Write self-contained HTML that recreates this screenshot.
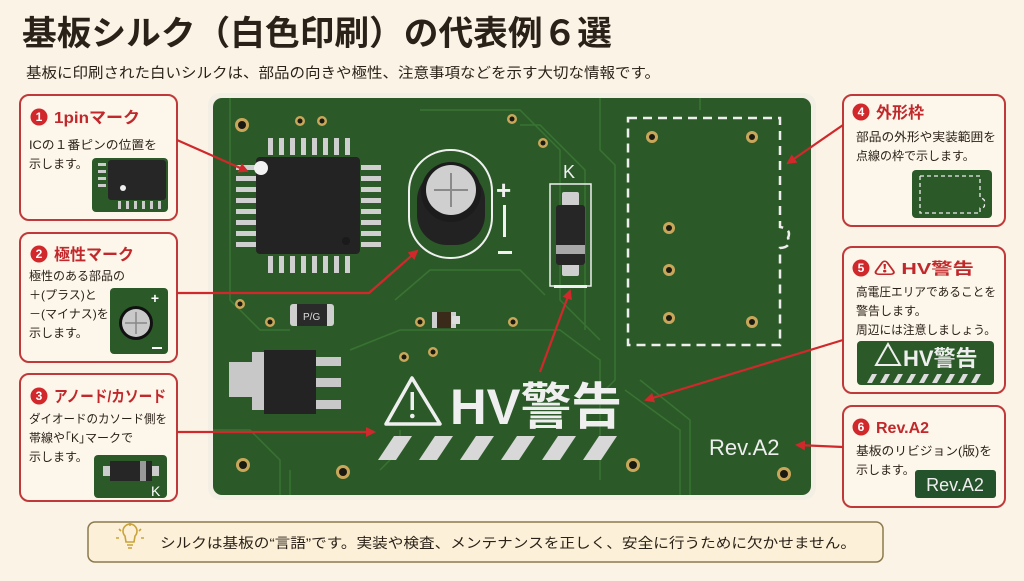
<!DOCTYPE html>
<html><head><meta charset="utf-8"><style>
html,body{margin:0;padding:0;background:#fbf4e6;}
body{width:1024px;height:576px;overflow:hidden;position:relative;font-family:"Liberation Sans","Noto Sans CJK JP",sans-serif;}
svg text{font-family:"Liberation Sans","Noto Sans CJK JP",sans-serif;}
</style></head><body>
<svg width="1024" height="576" viewBox="0 0 1024 576" xmlns="http://www.w3.org/2000/svg">
<defs>
<marker id="ah" markerWidth="10" markerHeight="10" refX="8" refY="5" orient="auto" markerUnits="userSpaceOnUse"><path d="M0,0 L10,5 L0,10 z" fill="#d0282b"/></marker>
</defs>
<rect width="1024" height="576" fill="#fbf4e6"/>
<!-- title -->
<text x="22" y="45" font-size="34" font-weight="bold" fill="#2a2118" textLength="590" lengthAdjust="spacingAndGlyphs">基板シルク（白色印刷）の代表例６選</text>
<text x="26" y="78" font-size="14.5" fill="#2a2118" textLength="634" lengthAdjust="spacingAndGlyphs">基板に印刷された白いシルクは、部品の向きや極性、注意事項などを示す大切な情報です。</text>

<!-- board -->
<rect x="208" y="93" width="608" height="407" rx="12" fill="#f4efe4"/>
<rect x="213" y="98" width="598" height="397" rx="9" fill="#2b5a28"/>
<g stroke="#3d7a36" stroke-width="1.5" fill="none" opacity="0.8">
<path d="M230 98 V300 L260 330 H290"/><path d="M420 110 H520 L560 150 V300 L600 340"/>
<path d="M600 98 V150 L615 165 V380 L600 395"/><path d="M520 125 H540 L585 170 V330"/>
<path d="M395 300 L430 270 H520 L545 295"/><path d="M350 350 L400 330 H560 L600 360 V480"/>
<path d="M380 470 L400 450 V430"/><path d="M640 380 L690 420 V495"/><path d="M625 390 L680 430 V495"/>
<path d="M213 430 H250 L280 460 V495"/><path d="M290 470 V495"/><path d="M700 110 V98"/>
</g>
<!-- holes -->
<g fill="#c9a75a"><circle cx="242" cy="125" r="7"/><circle cx="300" cy="121" r="5"/><circle cx="322" cy="121" r="5"/><circle cx="512" cy="119" r="5"/><circle cx="543" cy="143" r="5"/><circle cx="240" cy="304" r="5"/><circle cx="270" cy="322" r="5"/><circle cx="420" cy="322" r="5"/><circle cx="513" cy="322" r="5"/><circle cx="404" cy="357" r="5"/><circle cx="433" cy="352" r="5"/><circle cx="243" cy="465" r="7"/><circle cx="343" cy="472" r="7"/><circle cx="652" cy="137" r="6"/><circle cx="752" cy="137" r="6"/><circle cx="669" cy="228" r="6"/><circle cx="669" cy="270" r="6"/><circle cx="669" cy="318" r="6"/><circle cx="752" cy="322" r="6"/><circle cx="633" cy="465" r="7"/><circle cx="784" cy="474" r="7"/></g>
<g fill="#1a1a12"><circle cx="242" cy="125" r="4"/><circle cx="300" cy="121" r="2.5"/><circle cx="322" cy="121" r="2.5"/><circle cx="512" cy="119" r="2.5"/><circle cx="543" cy="143" r="2.5"/><circle cx="240" cy="304" r="2.5"/><circle cx="270" cy="322" r="2.5"/><circle cx="420" cy="322" r="2.5"/><circle cx="513" cy="322" r="2.5"/><circle cx="404" cy="357" r="2.5"/><circle cx="433" cy="352" r="2.5"/><circle cx="243" cy="465" r="4"/><circle cx="343" cy="472" r="4"/><circle cx="652" cy="137" r="3"/><circle cx="752" cy="137" r="3"/><circle cx="669" cy="228" r="3"/><circle cx="669" cy="270" r="3"/><circle cx="669" cy="318" r="3"/><circle cx="752" cy="322" r="3"/><circle cx="633" cy="465" r="4"/><circle cx="784" cy="474" r="4"/></g>
<!-- IC -->
<g fill="#cfcfcf">
<g id="tp"><rect x="268" y="138" width="5" height="17"/><rect x="279" y="138" width="5" height="17"/><rect x="290" y="138" width="5" height="17"/><rect x="301" y="138" width="5" height="17"/><rect x="312" y="138" width="5" height="17"/><rect x="323" y="138" width="5" height="17"/><rect x="334" y="138" width="5" height="17"/><rect x="345" y="138" width="5" height="17"/></g>
<use href="#tp" y="118"/>
<g id="lp"><rect x="236" y="165" width="20" height="5"/><rect x="236" y="176" width="20" height="5"/><rect x="236" y="187" width="20" height="5"/><rect x="236" y="198" width="20" height="5"/><rect x="236" y="209" width="20" height="5"/><rect x="236" y="220" width="20" height="5"/><rect x="236" y="231" width="20" height="5"/><rect x="236" y="242" width="20" height="5"/></g>
<use href="#lp" x="125"/>
</g>
<rect x="256" y="157" width="104" height="97" rx="4" fill="#232323"/>
<circle cx="261" cy="168" r="7" fill="#f2f2f2"/><circle cx="346" cy="241" r="4" fill="#1a1a1a"/>
<!-- capacitor -->
<rect x="409" y="150" width="83" height="108" rx="41" fill="none" stroke="#f0f0f0" stroke-width="2"/>
<rect x="417" y="170" width="68" height="75" rx="30" fill="#222"/>
<circle cx="451" cy="192" r="30" fill="#1c1c1c"/>
<circle cx="451" cy="190" r="25" fill="#cfcfcf"/>
<path d="M451 173 V207 M434 190 H468" stroke="#8a8a8a" stroke-width="2"/>
<text x="496" y="199" font-size="26" fill="#f0f0f0" font-weight="bold">+</text>
<rect x="503" y="205" width="3" height="32" fill="#f0f0f0"/>
<rect x="498" y="251" width="14" height="3" fill="#f0f0f0"/>
<!-- diode -->
<text x="563" y="178" font-size="18" fill="#f0f0f0">K</text>
<rect x="550" y="184" width="41" height="102" fill="none" stroke="#f0f0f0" stroke-width="1.5"/>
<rect x="554" y="285" width="33" height="3" fill="#f0f0f0"/>
<rect x="562" y="192" width="17" height="14" rx="2" fill="#cfcfcf"/>
<rect x="562" y="260" width="17" height="16" rx="2" fill="#cfcfcf"/>
<rect x="556" y="205" width="29" height="60" rx="3" fill="#262626"/>
<rect x="556" y="245" width="29" height="9" fill="#a8a8a8"/>
<!-- PG resistor -->
<rect x="290" y="304" width="44" height="22" rx="3" fill="#cfcfcf"/><rect x="297" y="304" width="30" height="22" fill="#2a2a2a"/>
<text x="303" y="320" font-size="10" fill="#ddd">P/G</text>
<rect x="432" y="312" width="24" height="16" fill="#cfcfcf"/><rect x="437" y="312" width="14" height="16" fill="#3a2a1a"/><rect x="452" y="316" width="8" height="8" fill="#ddd"/>
<!-- regulator -->
<rect x="229" y="362" width="36" height="35" fill="#c8c8c8"/><rect x="252" y="352" width="14" height="58" fill="#c8c8c8"/>
<rect x="264" y="350" width="52" height="64" fill="#232323"/>
<rect x="316" y="357" width="25" height="9" fill="#c8c8c8"/><rect x="316" y="378" width="25" height="9" fill="#c8c8c8"/><rect x="316" y="400" width="25" height="9" fill="#c8c8c8"/>
<!-- HV -->
<path d="M412 378 L440 424 H386 Z" fill="none" stroke="#efefef" stroke-width="3.5" stroke-linejoin="round"/>
<rect x="410.5" y="392" width="3.5" height="18" fill="#efefef"/><circle cx="412.3" cy="416" r="2.3" fill="#efefef"/>
<text x="450" y="424" font-size="50" fill="#efefef" font-weight="bold" textLength="172" lengthAdjust="spacingAndGlyphs">HV警告</text>
<g fill="#d8d8d8"><path d="M378 460 L394 436 H412 L396 460Z"/><path d="M419 460 L435 436 H453 L437 460Z"/><path d="M460 460 L476 436 H494 L478 460Z"/><path d="M501 460 L517 436 H535 L519 460Z"/><path d="M542 460 L558 436 H576 L560 460Z"/><path d="M583 460 L599 436 H617 L601 460Z"/></g>
<!-- outline -->
<path d="M628 118 H780 V227 Q792 229 788 238 Q792 247 780 248 V345 H628 Z" fill="none" stroke="#eeeeee" stroke-width="2.5" stroke-dasharray="9,6"/>
<text x="709" y="455" font-size="22" fill="#eeeeee">Rev.A2</text>

<!-- boxes -->
<g fill="#fdf6ea" stroke="#c0393a" stroke-width="2">
<rect x="20" y="95" width="157" height="125" rx="9"/><rect x="20" y="233" width="157" height="129" rx="9"/><rect x="20" y="374" width="157" height="127" rx="9"/>
<rect x="843" y="95" width="162" height="131" rx="9"/><rect x="843" y="247" width="162" height="146" rx="9"/><rect x="843" y="406" width="162" height="101" rx="9"/>
</g>
<g fill="#d0282b"><circle cx="39" cy="117" r="8.5"/><circle cx="39" cy="254" r="8.5"/><circle cx="39" cy="396" r="8.5"/><circle cx="861" cy="112" r="8.5"/><circle cx="861" cy="268" r="8.5"/><circle cx="861" cy="427" r="8.5"/></g>
<g fill="#fff" font-size="12" font-weight="bold" text-anchor="middle"><text x="39" y="121">1</text><text x="39" y="258">2</text><text x="39" y="400">3</text><text x="861" y="116">4</text><text x="861" y="272">5</text><text x="861" y="431">6</text></g>
<g fill="#c0282b" font-size="16" font-weight="bold">
<text x="54" y="123" textLength="86" lengthAdjust="spacingAndGlyphs">1pinマーク</text><text x="54" y="260" textLength="80" lengthAdjust="spacingAndGlyphs">極性マーク</text><text x="54" y="402" textLength="112" lengthAdjust="spacingAndGlyphs">アノード/カソード</text>
<text x="876" y="118">外形枠</text><text x="874" y="274" textLength="100" lengthAdjust="spacingAndGlyphs">⚠ HV警告</text><text x="876" y="433">Rev.A2</text>
</g>
<g fill="#2a2118" font-size="12">
<text x="29" y="149" textLength="128" lengthAdjust="spacingAndGlyphs">ICの１番ピンの位置を</text><text x="29" y="168">示します。</text>
<text x="29" y="280">極性のある部品の</text><text x="29" y="299">＋(プラス)と</text><text x="29" y="318">－(マイナス)を</text><text x="29" y="337">示します。</text>
<text x="29" y="423" textLength="138" lengthAdjust="spacingAndGlyphs">ダイオードのカソード側を</text><text x="29" y="442">帯線や｢K｣マークで</text><text x="29" y="461">示します。</text>
<text x="856" y="141" textLength="140" lengthAdjust="spacingAndGlyphs">部品の外形や実装範囲を</text><text x="856" y="160">点線の枠で示します。</text>
<text x="856" y="296" textLength="140" lengthAdjust="spacingAndGlyphs">高電圧エリアであることを</text><text x="856" y="315">警告します。</text><text x="856" y="334" textLength="140" lengthAdjust="spacingAndGlyphs">周辺には注意しましょう。</text>
<text x="856" y="455" textLength="136" lengthAdjust="spacingAndGlyphs">基板のリビジョン(版)を</text><text x="856" y="474">示します。</text>
</g>
<!-- mini images -->
<rect x="92" y="158" width="76" height="54" rx="4" fill="#2b5a28"/>
<rect x="108" y="160" width="58" height="40" rx="3" fill="#262626"/><circle cx="123" cy="188" r="3" fill="#eee"/>
<g fill="#ccc"><rect x="98" y="163" width="8" height="3"/><rect x="98" y="170" width="8" height="3"/><rect x="98" y="177" width="8" height="3"/><rect x="98" y="184" width="8" height="3"/><rect x="118" y="201" width="3" height="8"/><rect x="126" y="201" width="3" height="8"/><rect x="134" y="201" width="3" height="8"/><rect x="142" y="201" width="3" height="8"/><rect x="150" y="201" width="3" height="8"/><rect x="158" y="201" width="3" height="8"/></g>
<rect x="110" y="288" width="58" height="66" rx="4" fill="#2b5a28"/>
<circle cx="136" cy="323" r="17" fill="#111"/><circle cx="136" cy="323" r="14" fill="#c9c9c9"/><path d="M136 312 V334 M125 323 H147" stroke="#888" stroke-width="1.5"/>
<text x="155" y="303" font-size="14" fill="#fff" font-weight="bold" text-anchor="middle">+</text><rect x="152" y="347" width="10" height="2" fill="#fff"/>
<rect x="94" y="455" width="73" height="43" rx="4" fill="#2b5a28"/>
<rect x="103" y="466" width="12" height="10" fill="#ccc"/><rect x="147" y="466" width="12" height="10" fill="#ccc"/>
<rect x="110" y="461" width="42" height="20" fill="#262626"/><rect x="140" y="461" width="6" height="20" fill="#999"/>
<text x="151" y="496" font-size="14" fill="#fff">K</text>
<rect x="912" y="170" width="80" height="48" rx="4" fill="#2b5a28"/>
<path d="M920 176 H980 V198 Q986 199 984 203 Q986 208 980 208 V213 H920 Z" fill="none" stroke="#eee" stroke-width="1.3" stroke-dasharray="4,3"/>
<rect x="857" y="341" width="137" height="44" rx="4" fill="#2b5a28"/>
<path d="M888 344 L900 365 H876 Z" fill="none" stroke="#eee" stroke-width="2"/>
<text x="903" y="366" font-size="22" fill="#eee" font-weight="bold">HV警告</text>
<g fill="#ddd"><path d="M867 383 L872 374 H877 L872 383Z"/><path d="M880 383 L885 374 H890 L885 383Z"/><path d="M893 383 L898 374 H903 L898 383Z"/><path d="M906 383 L911 374 H916 L911 383Z"/><path d="M919 383 L924 374 H929 L924 383Z"/><path d="M932 383 L937 374 H942 L937 383Z"/><path d="M945 383 L950 374 H955 L950 383Z"/><path d="M958 383 L963 374 H968 L963 383Z"/><path d="M971 383 L976 374 H981 L976 383Z"/></g>
<rect x="915" y="470" width="81" height="28" rx="3" fill="#24522a"/>
<text x="955" y="491" font-size="18" fill="#eee" text-anchor="middle">Rev.A2</text>

<!-- arrows -->
<g stroke="#d0282b" stroke-width="2.2" fill="none" marker-end="url(#ah)">
<path d="M177 140 L247 171"/>
<path d="M177 293 H369 L417 251"/>
<path d="M177 432 H374"/>
<path d="M540 372 L570 291"/>
<path d="M843 125 L788 163"/>
<path d="M843 340 L646 400"/>
<path d="M843 447 L797 445"/>
</g>

<!-- bottom note -->
<rect x="88" y="522" width="795" height="40" rx="7" fill="#fcf1d8" stroke="#8b7a4e" stroke-width="1.5"/>
<g stroke="#c9a23a" stroke-width="1.6" fill="none"><path d="M125 536 a7 7 0 1 1 10 0 l-1 6 h-8 z"/><path d="M127 545 h6 M128 548 h4"/><path d="M130 523 v3 M119 529 l2 2 M141 529 l-2 2 M116 538 h3 M141 538 h3"/></g>
<text x="160" y="548" font-size="14" fill="#2a2118" textLength="696" lengthAdjust="spacingAndGlyphs">シルクは基板の“言語”です。実装や検査、メンテナンスを正しく、安全に行うために欠かせません。</text>
</svg>
</body></html>
